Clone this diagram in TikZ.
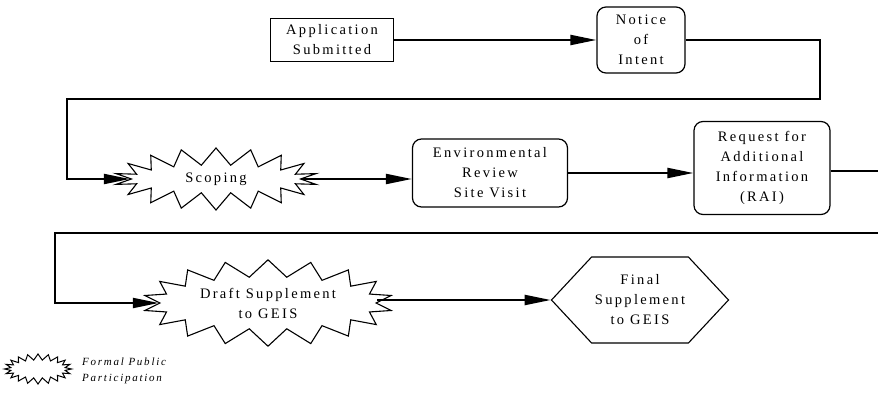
\documentclass[tikz,border=0pt]{standalone}
\usepackage{fontspec}
\setmainfont[LetterSpace=16]{Liberation Serif}
\usetikzlibrary{arrows.meta}
\usetikzlibrary{shapes.symbols}
\usetikzlibrary{calc}

\tikzset{
  stepbox/.style={draw, line width=1.2pt, align=center, font=\fontsize{14.5}{20}\selectfont},
  roundbox/.style={stepbox, rounded corners=9pt},
  burst/.style={starburst, draw, line width=1.1pt, starburst points=18,
    starburst point height=17pt, random starburst=0, align=center,
    font=\fontsize{14.5}{20}\selectfont},
  flow/.style={line width=2.1pt, -{Triangle[length=26pt,width=10pt]}},
  plain/.style={line width=2.1pt}
}

\begin{document}
\begin{tikzpicture}[x=1pt,y=-1pt]

        \useasboundingbox (0,0) rectangle (878,412);

        % First row
        \node[stepbox, minimum width=123pt, minimum height=43pt] (app) at (332,40) {Application\\Submitted};
        \node[roundbox, minimum width=88pt, minimum height=66pt, inner sep=1pt] (noi) at (641,40) {Notice\\of\\Intent};
        \draw[flow] (app.east) -- (app.east -| noi.west);

        % Second row
        \node[burst, minimum width=203pt, minimum height=62pt] (scop) at (216,179) {Scoping};
        \node[roundbox, minimum width=155pt, minimum height=68pt, inner sep=1pt] (env) at (490,173) {Environmental\\Review\\Site Visit};
        \node[roundbox, minimum width=136pt, minimum height=93pt, inner sep=1pt] (rai) at (762,168) {Request for\\Additional\\Information\\(RAI)};

        \coordinate (r1) at (820,99);
        \coordinate (l1) at (67,99);
        \draw[flow] (noi.east) -| (r1) -- (l1) |- (scop.west);
        \draw[flow] (scop.east) -- (scop.east -| env.west);
        \draw[flow] (env.east) -- (env.east -| rai.west);

        % Third row
        \node[burst, minimum width=250pt, minimum height=80pt] (draft) at (268,303) {Draft Supplement\\to GEIS};
        \node[signal, signal to=west and east, signal pointer angle=94, draw, line width=1.1pt,
              align=center, font=\fontsize{14.5}{20}\selectfont,
              minimum width=165pt, minimum height=86pt] (fin) at (640,300) {Final\\Supplement\\to GEIS};

        \coordinate (e1) at (878,171);
        \coordinate (e2) at (878,233);
        \coordinate (l2) at (55,233);
        \draw[plain] (rai.east |- e1) -- (e1);
        \draw[flow] (e2) -- (l2) |- (draft.west);
        \draw[flow] (fin.west -| draft.east) -- (fin.west);

        % Legend
        \node[burst, starburst points=20, starburst point height=6pt, line width=1pt,
              minimum width=67pt, minimum height=30pt] (leg) at (38,369) {};
        \node[anchor=west, align=left, inner sep=0pt, font=\fontsize{11}{16}\selectfont\itshape]
              (legtxt) at (82,371) {Formal Public\\Participation};

\end{tikzpicture}
\end{document}
